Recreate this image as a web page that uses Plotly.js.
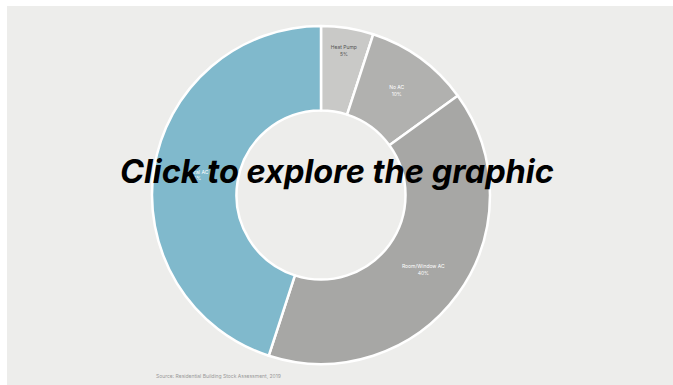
<!DOCTYPE html>
<html>
<head>
<meta charset="utf-8">
<script src="https://cdn.plot.ly/plotly-3.0.1.min.js"></script>
<style>
html,body{margin:0;padding:0;background:#ffffff;}
#chart{width:673px;height:385px;}
</style>
</head>
<body>
<div id="chart"></div>
<script>
const categories = ["Heat Pump", "No AC", "Room/Window AC", "Central AC"];
const shares = [5, 10, 40, 45];
const sliceColors = ["#c9c9c7", "#b1b1af", "#a7a7a5", "#80b9cc"];
const labelColors = ["#555555", "#ffffff", "#ffffff", "#ffffff"];

const labelText = categories.map((c, i) => c + "<br>" + shares[i] + "%");

const trace = {
  type: "pie",
  labels: categories,
  values: shares,
  text: labelText,
  textinfo: "text",
  textposition: "inside",
  insidetextorientation: "horizontal",
  textfont: {family: "Inter, Arial, sans-serif", size: 5, color: labelColors},
  hole: 0.5,
  sort: false,
  direction: "clockwise",
  rotation: 0,
  marker: {colors: sliceColors, line: {color: "#ffffff", width: 2.5}},
  domain: {x: [152/673, 490/673], y: [20/385, 360/385]},
  showlegend: false,
  hoverinfo: "label+percent"
};

const layout = {
  width: 673,
  height: 385,
  margin: {l: 0, r: 0, t: 0, b: 0},
  paper_bgcolor: "#ffffff",
  shapes: [{
    type: "rect", xref: "paper", yref: "paper",
    x0: 7/673, x1: 1, y0: 0, y1: 1 - 6/385,
    fillcolor: "#ededeb", line: {width: 0}, layer: "below"
  }],
  annotations: [
    {
      text: "Click to explore the graphic",
      xref: "paper", yref: "paper", x: 337/673, y: 1 - 172/385,
      xanchor: "center", yanchor: "middle", showarrow: false,
      font: {family: "Inter, Arial, sans-serif", size: 32.5, color: "#000000", weight: 700, style: "italic"}
    },
    {
      text: "Source: Residential Building Stock Assessment, 2019",
      xref: "paper", yref: "paper", x: 154/673, y: 1 - 376/385,
      xanchor: "left", yanchor: "middle", showarrow: false,
      font: {family: "Inter, Arial, sans-serif", size: 5, color: "#999999"}
    }
  ]
};

Plotly.newPlot("chart", [trace], layout, {displayModeBar: false, staticPlot: true});
</script>
</body>
</html>
